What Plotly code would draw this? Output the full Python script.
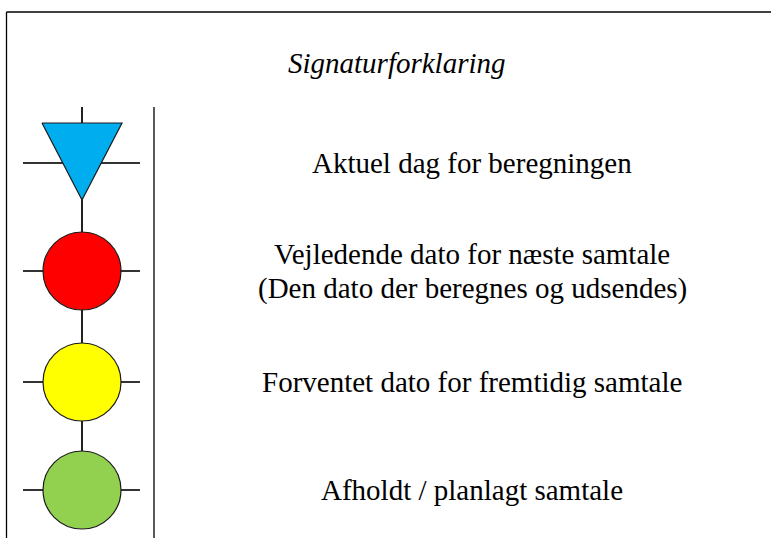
import plotly.graph_objects as go

# ---- content ----
title_text = "Signaturforklaring"
label_lines = [
    ["Aktuel dag for beregningen"],
    ["Vejledende dato for næste samtale", "(Den dato der beregnes og udsendes)"],
    ["Forventet dato for fremtidig samtale"],
    ["Afholdt / planlagt samtale"],
]
symbol_kinds = ["triangle-down", "circle", "circle", "circle"]
fill_colors = ["#00AEEF", "#FF0000", "#FFFF00", "#92D050"]

# ---- layout constants (pixel coordinates of the page) ----
W, H = 771, 538
row_y = [163, 271, 382, 490]
sym_x = 82
radius = 39
tri_half_w = 40
tri_top = 123
tri_apex = 200
text_x = 472
line_gap = 34
font_family = "Liberation Serif, Times New Roman, serif"
font_size = 29

fig = go.Figure()
shapes = []
annotations = []

# outer frame (left + top)
shapes.append(dict(type="line", x0=6.5, y0=H + 20, x1=6.5, y1=12, line=dict(color="black", width=1.3)))
shapes.append(dict(type="line", x0=6.5, y0=12, x1=W + 20, y1=12, line=dict(color="black", width=1.3)))
# divider line
shapes.append(dict(type="line", x0=154, y0=107, x1=154, y1=H + 20, line=dict(color="black", width=1.3)))

# vertical connector line through symbols
shapes.append(dict(type="line", x0=sym_x, y0=107, x1=sym_x, y1=row_y[-1], line=dict(color="#222", width=2), layer="below"))

# horizontal tick lines
for y in row_y:
    shapes.append(dict(type="line", x0=23, y0=y, x1=140, y1=y, line=dict(color="#333", width=2), layer="below"))

for i, (kind, col, y) in enumerate(zip(symbol_kinds, fill_colors, row_y)):
    if kind == "triangle-down":
        fig.add_trace(go.Scatter(
            x=[sym_x - tri_half_w, sym_x + tri_half_w, sym_x, sym_x - tri_half_w],
            y=[tri_top, tri_top, tri_apex, tri_top],
            mode="lines", fill="toself", fillcolor=col,
            line=dict(color="#1a1a1a", width=1.2), hoverinfo="skip", showlegend=False))
    else:
        fig.add_trace(go.Scatter(
            x=[sym_x], y=[y], mode="markers",
            marker=dict(symbol="circle", size=2 * radius, color=col,
                        line=dict(color="#1a1a1a", width=1.2)),
            hoverinfo="skip", showlegend=False))

    lines = label_lines[i]
    n = len(lines)
    for j, t in enumerate(lines):
        yy = y + (j - (n - 1) / 2) * line_gap
        annotations.append(dict(x=text_x, y=yy, text=t, showarrow=False,
                                xanchor="center", yanchor="middle",
                                font=dict(family=font_family, size=font_size, color="black")))

annotations.append(dict(x=397, y=63, text="<i>" + title_text + "</i>", showarrow=False,
                        xanchor="center", yanchor="middle",
                        font=dict(family=font_family, size=font_size, color="black")))

fig.update_layout(
    width=W, height=H,
    margin=dict(l=0, r=0, t=0, b=0),
    paper_bgcolor="white", plot_bgcolor="white",
    xaxis=dict(range=[0, W], visible=False, fixedrange=True),
    yaxis=dict(range=[H, 0], visible=False, fixedrange=True),
    shapes=shapes, annotations=annotations,
)

fig.write_html("out.html", config={"displayModeBar": False},
               post_script="document.body.style.margin='0';document.body.style.overflow='hidden';")
